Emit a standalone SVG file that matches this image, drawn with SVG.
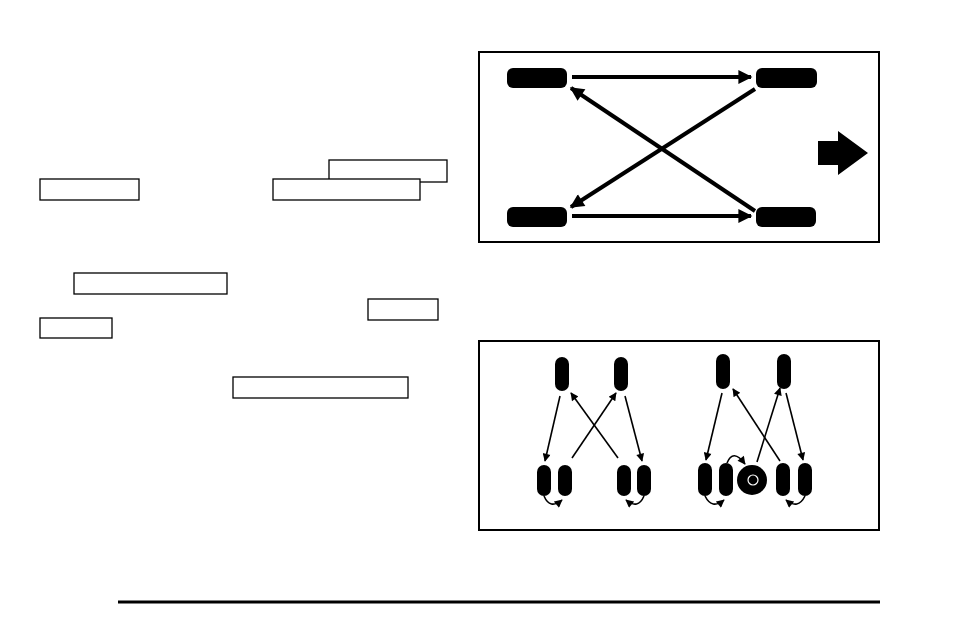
<svg xmlns="http://www.w3.org/2000/svg" width="954" height="636" viewBox="0 0 954 636">
<defs>
<marker id="ab" viewBox="0 0 10 10" refX="9" refY="5" markerWidth="4" markerHeight="3.5" orient="auto" markerUnits="strokeWidth"><path d="M0,0L10,5L0,10z" fill="#000"/></marker>
<marker id="as" viewBox="0 0 10 10" refX="9" refY="5" markerWidth="6" markerHeight="5" orient="auto" markerUnits="strokeWidth"><path d="M0,0L10,5L0,10z" fill="#000"/></marker>
</defs>
<style>.bx{fill:#fff;stroke:#000;stroke-width:1.3}.fr{fill:#fff;stroke:#000;stroke-width:2}.t{fill:#000}.thick{stroke:#000;stroke-width:4;fill:none;marker-end:url(#ab)}.thin{stroke:#000;stroke-width:1.6;fill:none;marker-end:url(#as)}</style>
<rect width="954" height="636" fill="#fff"/>
<g id="textboxes">
<rect class="bx" x="329" y="160" width="118" height="22"/>
<rect class="bx" x="40" y="179" width="99" height="21"/>
<rect class="bx" x="273" y="179" width="147" height="21"/>
<rect class="bx" x="74" y="273" width="153" height="21"/>
<rect class="bx" x="368" y="299" width="70" height="21"/>
<rect class="bx" x="40" y="318" width="72" height="20"/>
<rect class="bx" x="233" y="377" width="175" height="21"/>
</g>
<line x1="118" y1="602" x2="880" y2="602" stroke="#000" stroke-width="3"/>
<g id="panel1">
<rect class="fr" x="479" y="52" width="400" height="190"/>
<g id="tl"><rect class="t" x="507" y="68" width="60" height="20" rx="6"/></g>
<g id="tr"><rect class="t" x="756" y="68" width="61" height="20" rx="6"/></g>
<g id="bl"><rect class="t" x="507" y="207" width="60" height="20" rx="6"/></g>
<g id="br"><rect class="t" x="756" y="207" width="60" height="20" rx="6"/></g>
<g id="conn1">
<line class="thick" x1="572" y1="77" x2="751" y2="77"/>
<line class="thick" x1="572" y1="216" x2="751" y2="216"/>
<line class="thick" x1="755" y1="89" x2="571" y2="207"/>
<line class="thick" x1="755" y1="211" x2="571" y2="88"/>
</g>
<polygon id="dir" points="818,141 838,141 838,131 868,153 838,175 838,165 818,165" fill="#000"/>
</g>
<g id="panel2">
<rect class="fr" x="479" y="341" width="400" height="189"/>
<g id="tires" class="t">
<rect x="555" y="357" width="14" height="34" rx="7"/>
<rect x="614" y="357" width="14" height="34" rx="7"/>
<rect x="537" y="465" width="14" height="31" rx="7"/>
<rect x="558" y="465" width="14" height="31" rx="7"/>
<rect x="617" y="465" width="14" height="31" rx="7"/>
<rect x="637" y="465" width="14" height="31" rx="7"/>
<rect x="716" y="354" width="14" height="35" rx="7"/>
<rect x="777" y="354" width="14" height="35" rx="7"/>
<rect x="698" y="463" width="14" height="33" rx="7"/>
<rect x="719" y="463" width="14" height="33" rx="7"/>
<rect x="776" y="463" width="14" height="33" rx="7"/>
<rect x="798" y="463" width="14" height="33" rx="7"/>
</g>
<g id="spare"><circle cx="752" cy="480" r="15" fill="#000"/><circle cx="753" cy="480" r="5" fill="none" stroke="#fff" stroke-width="1.2"/></g>
<g id="conn2">
<line class="thin" x1="560" y1="396" x2="545" y2="461"/>
<line class="thin" x1="625" y1="396" x2="642" y2="461"/>
<line class="thin" x1="572" y1="458" x2="616" y2="393"/>
<line class="thin" x1="618" y1="458" x2="571" y2="393"/>
<path class="thin" d="M544,496 Q550,510 562,500"/>
<path class="thin" d="M644,496 Q638,510 626,500"/>
<line class="thin" x1="722" y1="393" x2="706" y2="460"/>
<line class="thin" x1="786" y1="393" x2="803" y2="460"/>
<line class="thin" x1="757" y1="462" x2="780" y2="388"/>
<line class="thin" x1="780" y1="461" x2="733" y2="389"/>
<path class="thin" d="M727,463 Q733,448 745,464"/>
<path class="thin" d="M705,496 Q712,510 724,500"/>
<path class="thin" d="M805,496 Q798,510 786,500"/>
</g>
</g>
</svg>
